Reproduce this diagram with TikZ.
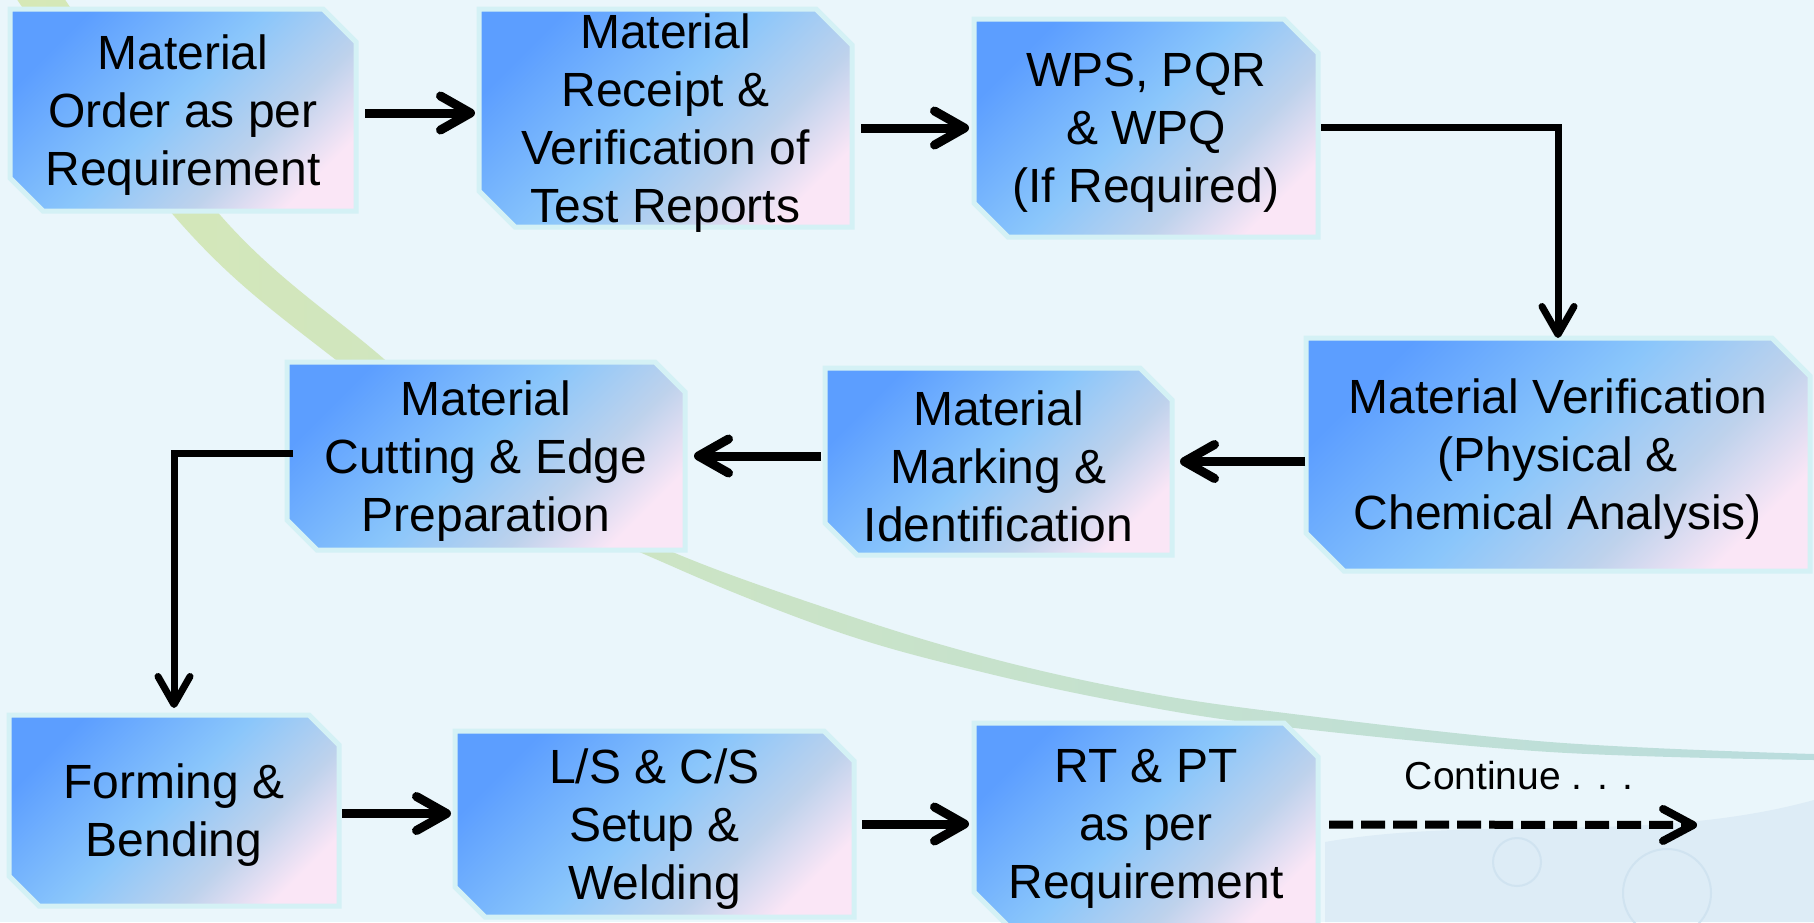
\documentclass[tikz,border=0pt]{standalone}
\usepackage{fontspec}
\setmainfont{Liberation Sans}
\usetikzlibrary{arrows.meta,calc}
\definecolor{bgc}{RGB}{234,246,251}
\definecolor{glowc}{RGB}{212,241,245}
\definecolor{sA}{RGB}{92,158,255}
\definecolor{sB}{RGB}{138,198,251}
\definecolor{sC}{RGB}{190,210,236}
\definecolor{sD}{RGB}{250,230,246}
\definecolor{swA}{RGB}{214,232,182}
\definecolor{swB}{RGB}{204,229,206}
\definecolor{swC}{RGB}{186,221,222}
\definecolor{wavec}{RGB}{221,236,246}
\definecolor{bubc}{RGB}{208,227,240}
\pgfdeclarehorizontalshading{boxshade}{100bp}{color(0bp)=(sA); color(25bp)=(sA); color(48bp)=(sB); color(64bp)=(sC); color(76bp)=(sD); color(100bp)=(sD)}
\pgfdeclarelayer{deep}
\pgfdeclarelayer{shapes}
\pgfsetlayers{deep,shapes,main}
\newcommand\cutshape[2]{\path[boxfill] (#1.north west) -- ([xshift=-#2pt]#1.north east) -- ([yshift=-#2pt]#1.north east) -- (#1.south east) -- ([xshift=#2pt]#1.south west) -- ([yshift=#2pt]#1.south west) -- cycle;}
\begin{document}
\begin{tikzpicture}[x=1pt,y=-1pt,
  stepbox/.style={rectangle, inner sep=0pt, outer sep=0pt},
  boxtext/.style={inner sep=0pt, align=center, font=\fontsize{48}{58}\selectfont},
  boxfill/.style={draw=glowc, line width=5pt, shading=boxshade, shading angle=-45},
  arr/.style={line width=9pt, -{Straight Barb[length=30pt,width=34pt,round]}},
  elbow/.style={line width=7pt, -{Straight Barb[length=28pt,width=32pt,round]}},
  darr/.style={line width=8pt, dash pattern=on 24pt off 8pt, -{Straight Barb[length=30pt,width=32pt,round]}}]
\useasboundingbox (0,0) rectangle (1814,922);
\begin{pgfonlayer}{deep}
  \fill[bgc] (0,0) rectangle (1814,922);
  \shade[left color=swA, middle color=swB, right color=swC]
    plot[smooth, tension=0.6] coordinates {(62,-5) (221,216) (377,353) (520,470) (661,547) (841,613) (986,657) (1132,690) (1277,712) (1550,742) (1814,754)}
    -- plot[smooth, tension=0.6] coordinates {(1814,760) (1550,752) (1277,726) (1132,704) (986,673) (841,633) (676,568) (540,500) (327,353) (175,217) (14,-5)}
    -- cycle;
  \fill[wavec] (1325,842) .. controls (1480,815) and (1650,845) .. (1814,800) -- (1814,922) -- (1325,922) -- cycle;
  \draw[bubc, line width=2pt] (1517,862) circle (24);
  \draw[bubc, line width=2pt] (1667,893) circle (44);
\end{pgfonlayer}

\node[stepbox, minimum width=346pt, minimum height=202pt] (b1) at (183,110) {};
\node[stepbox, minimum width=373pt, minimum height=218pt] (b2) at (665.5,118) {};
\node[stepbox, minimum width=344pt, minimum height=218pt] (b3) at (1146,128) {};
\node[stepbox, minimum width=504pt, minimum height=233pt] (b4) at (1558,454.5) {};
\node[stepbox, minimum width=347pt, minimum height=187pt] (b5) at (998.5,461.5) {};
\node[stepbox, minimum width=398pt, minimum height=188pt] (b6) at (486,456) {};
\node[stepbox, minimum width=330pt, minimum height=191pt] (b7) at (174,810.5) {};
\node[stepbox, minimum width=399pt, minimum height=186pt] (b8) at (654.5,824) {};
\node[stepbox, minimum width=344pt, minimum height=203pt] (b9) at (1146,824.5) {};

\begin{pgfonlayer}{shapes}
  \cutshape{b1}{33}
  \cutshape{b2}{36}
  \cutshape{b3}{34}
  \cutshape{b4}{38}
  \cutshape{b5}{32}
  \cutshape{b6}{30}
  \cutshape{b7}{30}
  \cutshape{b8}{30}
  \cutshape{b9}{34}
\end{pgfonlayer}

\node[boxtext] (t1) at ([yshift=-5pt]b1.center) {Material\\Order as per\\Requirement};
\node[boxtext] (t2) at ([yshift=-5pt]b2.center) {Material\\Receipt \&\\Verification of\\Test Reports};
\node[boxtext] (t3) at ([yshift=-5pt]b3.center) {WPS, PQR\\\& WPQ\\(If Required)};
\node[boxtext] (t4) at ([yshift=-5pt]b4.center) {Material Verification\\(Physical \&\\Chemical Analysis)};
\node[boxtext] (t5) at ([yshift=-5pt]b5.center) {Material\\Marking \&\\Identification};
\node[boxtext] (t6) at ([yshift=-5pt]b6.center) {Material\\Cutting \& Edge\\Preparation};
\node[boxtext] (t7) at ([yshift=-5pt]b7.center) {Forming \&\\Bending};
\node[boxtext] (t8) at ([yshift=-5pt]b8.center) {L/S \& C/S\\Setup \&\\Welding};
\node[boxtext] (t9) at ([yshift=-4pt]b9.center) {RT \& PT\\as per\\Requirement};
\node[font=\fontsize{39}{47}\selectfont, inner sep=0pt] (cont) at (1519,776) {Continue . . .};
\coordinate (cend) at (1697,825);

\draw[arr, shorten <=9pt, shorten >=4pt] ([yshift=-3pt]b1.east) -- ([yshift=-3pt]b1.east -| b2.west);
\draw[arr, shorten <=9pt, shorten >=5pt] (b2.east |- b3.west) -- (b3.west);
\draw[elbow, shorten <=3pt] ([yshift=1pt]b3.east) -| (b4.north);
\draw[arr, shorten <=1pt, shorten >=8pt] (b4.west |- b5.east) -- (b5.east);
\draw[arr, shorten <=4pt, shorten >=9pt] (b5.west |- b6.east) -- (b6.east);
\draw[elbow, shorten <=-6pt, shorten >=7pt] ([yshift=3pt]b6.west) -| (b7.north);
\draw[arr, shorten <=3pt, shorten >=4pt] ([yshift=-3pt]b7.east) -- ([yshift=-3pt]b7.east -| b8.west);
\draw[arr, shorten <=8pt, shorten >=5pt] (b8.east) -- (b8.east -| b9.west);
\draw[darr, shorten <=11pt] (b9.east) -- (cend);
\end{tikzpicture}
\end{document}
